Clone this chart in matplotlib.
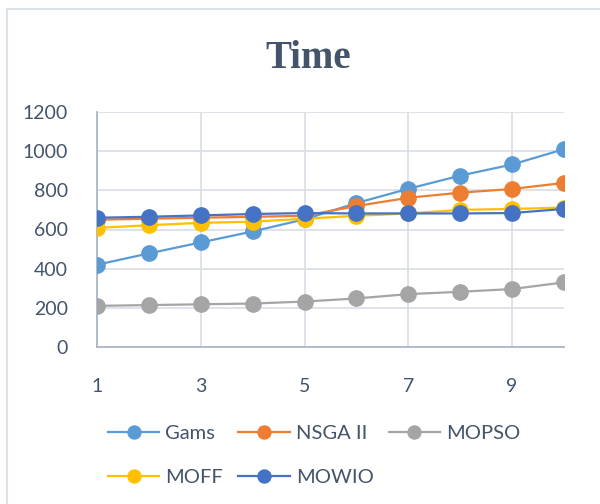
import matplotlib.pyplot as plt
from matplotlib.lines import Line2D

x = [1, 2, 3, 4, 5, 6, 7, 8, 9, 10]
gams = [420, 478, 534, 590, 652, 735, 808, 875, 932, 1010]
nsga = [650, 655, 660, 665, 670, 720, 762, 788, 807, 838]
mopso = [210, 214, 218, 222, 232, 248, 270, 282, 296, 330]
moff = [608, 622, 634, 640, 655, 670, 682, 700, 705, 712]
mowio = [660, 665, 672, 679, 684, 682, 682, 682, 684, 705]

series = [
    ("Gams", gams, "#5B9BD5"),
    ("NSGA II", nsga, "#ED7D31"),
    ("MOPSO", mopso, "#A5A5A5"),
    ("MOFF", moff, "#FFC000"),
    ("MOWIO", mowio, "#4472C4"),
]

text_col = "#44546A"
plt.rcParams['font.family'] = ['Lato', 'DejaVu Sans']

fig = plt.figure(figsize=(6, 5.04), dpi=100)
ax = fig.add_axes([97 / 600, 1 - 347 / 504, 467 / 600, 235 / 504])

lines = {}
for name, vals, col in series:
    ln, = ax.plot(x, vals, color=col, lw=1.6, marker='o', markersize=11,
                  markeredgecolor=col, label=name, zorder=3)
    lines[name] = ln

ax.set_xlim(1, 10)
ax.set_ylim(0, 1200)
ax.set_xticks([1, 3, 5, 7, 9])
ax.set_yticks(range(0, 1201, 200))
ax.grid(True, color="#D9DDE5", lw=1.2, zorder=0)
ax.tick_params(length=0, labelsize=14, labelcolor=text_col)
ax.tick_params(axis='y', pad=21)
ax.tick_params(axis='x', pad=22)
for s in ['top', 'right']:
    ax.spines[s].set_visible(False)
for s in ['left', 'bottom']:
    ax.spines[s].set_color("#AAB6C8")
    ax.spines[s].set_linewidth(1.3)

fig.text(308 / 600, 1 - 58 / 504, "Time", ha='center', va='center',
         fontsize=28, fontweight='bold', color=text_col,
         family=['Liberation Serif', 'DejaVu Serif'])

# matplotlib fills legend columns first, so reorder to read row by row
order = ["Gams", "MOFF", "NSGA II", "MOWIO", "MOPSO"]
leg = fig.legend([lines[n] for n in order], order, loc='upper left',
                 bbox_to_anchor=(98 / 600, 1 - 415 / 504), borderpad=0,
                 ncol=3, frameon=False, fontsize=14.5, handlelength=2.55,
                 handletextpad=0.3, columnspacing=0.75, labelspacing=1.35,
                 markerscale=0.85)
for t in leg.get_texts():
    t.set_color(text_col)

# chart border (top and left edges visible)
fig.add_artist(Line2D([7 / 600, 7 / 600], [0, 1 - 9 / 504], color="#DDE1E8",
                      lw=1.5, transform=fig.transFigure))
fig.add_artist(Line2D([7 / 600, 1], [1 - 9 / 504, 1 - 9 / 504], color="#DDE1E8",
                      lw=1.5, transform=fig.transFigure))

fig.savefig("out.png", dpi=100, facecolor='white')
